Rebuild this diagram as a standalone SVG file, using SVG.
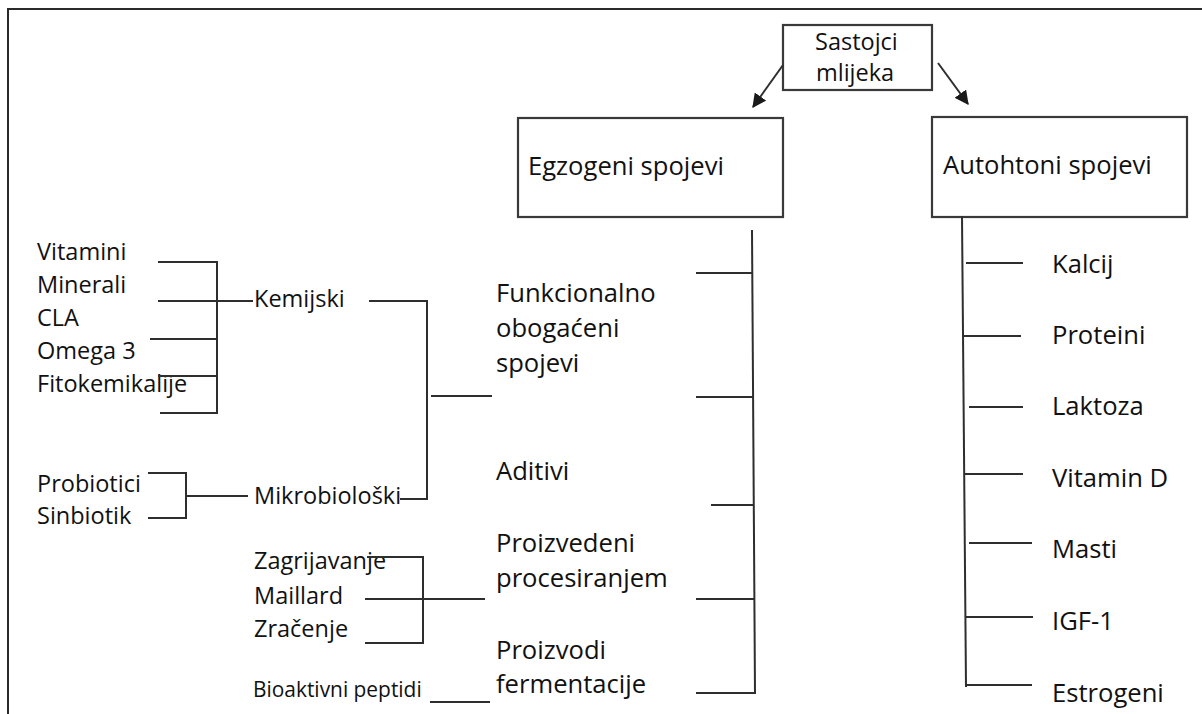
<svg xmlns="http://www.w3.org/2000/svg" width="1202" height="714" viewBox="0 0 1202 714">
<style>
  text { font-family: "Open Sans", "Noto Sans", sans-serif; font-size: 23.5px; fill: #111; }
  .big { font-size: 25.6px; }
  .small { font-size: 20.9px; }
  .box { fill: #fff; stroke: #3a3a3a; stroke-width: 2.2; }
  .ln { stroke: #2e2e2e; stroke-width: 2; fill: none; stroke-linecap: butt; }
  .frame { stroke: #2a2a2a; stroke-width: 2; fill: none; }
</style>
<defs>
  <marker id="ah2" viewBox="0 0 12 12" refX="11" refY="6" markerWidth="14" markerHeight="14" markerUnits="userSpaceOnUse" orient="auto">
    <path d="M0,0 L12,6 L0,12 z" fill="#1a1a1a"/>
  </marker>
</defs>
<rect width="1202" height="714" fill="#fff"/>
<path class="frame" d="M8,714 L8,9 L1202,9"/>

<g id="node-sastojci">
  <rect class="box" x="783" y="25" width="149" height="65"/>
  <text x="815" y="50">Sastojci</text>
  <text x="816" y="81">mlijeka</text>
</g>
<g id="node-egzogeni">
  <rect class="box" x="518" y="118" width="265" height="99"/>
  <text class="big" x="528" y="175">Egzogeni spojevi</text>
</g>
<g id="node-autohtoni">
  <rect class="box" x="932" y="117" width="255" height="100"/>
  <text class="big" x="943" y="174">Autohtoni spojevi</text>
</g>

<g id="node-kemijski-items">
  <text x="37" y="260">Vitamini</text>
  <text x="37" y="293">Minerali</text>
  <text x="37" y="326">CLA</text>
  <text x="37" y="359">Omega 3</text>
  <text x="37" y="392">Fitokemikalije</text>
</g>
<g id="node-kemijski"><text x="254" y="307">Kemijski</text></g>
<g id="node-mikro-items">
  <text x="37" y="492">Probiotici</text>
  <text x="37" y="524">Sinbiotik</text>
</g>
<g id="node-mikrobioloski"><text x="254" y="504">Mikrobiološki</text></g>
<g id="node-proc-items">
  <text x="254" y="569">Zagrijavanje</text>
  <text x="254" y="604">Maillard</text>
  <text x="254" y="637">Zračenje</text>
</g>
<g id="node-bioaktivni"><text class="small" x="253" y="697">Bioaktivni peptidi</text></g>

<g id="node-funkcionalno">
  <text class="big" x="496" y="302">Funkcionalno</text>
  <text class="big" x="496" y="337">obogaćeni</text>
  <text class="big" x="496" y="372">spojevi</text>
</g>
<g id="node-aditivi"><text class="big" x="496" y="480">Aditivi</text></g>
<g id="node-proizvedeni">
  <text class="big" x="496" y="552">Proizvedeni</text>
  <text class="big" x="496" y="587">procesiranjem</text>
</g>
<g id="node-proizvodi">
  <text class="big" x="496" y="659">Proizvodi</text>
  <text class="big" x="496" y="693">fermentacije</text>
</g>

<g id="node-autohtoni-items">
  <text class="big" x="1052" y="273">Kalcij</text>
  <text class="big" x="1052" y="344">Proteini</text>
  <text class="big" x="1052" y="415">Laktoza</text>
  <text class="big" x="1052" y="487">Vitamin D</text>
  <text class="big" x="1052" y="558">Masti</text>
  <text class="big" x="1052" y="630">IGF-1</text>
  <text class="big" x="1052" y="702">Estrogeni</text>
</g>

<g id="connectors">
  <line class="ln" x1="783" y1="65" x2="753" y2="107" marker-end="url(#ah2)"/>
  <line class="ln" x1="938" y1="63" x2="968" y2="104" marker-end="url(#ah2)"/>

  <path class="ln" d="M158,262 L217,262 L217,413 L160,413"/>
  <line class="ln" x1="158" y1="301" x2="253" y2="301"/>
  <line class="ln" x1="150" y1="339" x2="217" y2="339"/>
  <line class="ln" x1="158" y1="376" x2="217" y2="376"/>
  <path class="ln" d="M369,301 L427,301 L427,499 L400,499"/>
  <line class="ln" x1="431" y1="396" x2="492" y2="396"/>
  <path class="ln" d="M148,473 L186,473 L186,518 L148,518"/>
  <line class="ln" x1="186" y1="496" x2="248" y2="496"/>
  <path class="ln" d="M367,557 L423,557 L423,643 L365,643"/>
  <line class="ln" x1="365" y1="599" x2="485" y2="599"/>
  <line class="ln" x1="430" y1="702" x2="490" y2="702"/>

  <line class="ln" x1="752" y1="230" x2="755" y2="693"/>
  <line class="ln" x1="696" y1="273" x2="752" y2="273"/>
  <line class="ln" x1="696" y1="397" x2="754" y2="397"/>
  <line class="ln" x1="711" y1="505" x2="754" y2="505"/>
  <line class="ln" x1="696" y1="599" x2="755" y2="599"/>
  <line class="ln" x1="696" y1="693" x2="756" y2="693"/>

  <line class="ln" x1="962" y1="216" x2="966" y2="687"/>
  <line class="ln" x1="966" y1="263" x2="1023" y2="263"/>
  <line class="ln" x1="964" y1="336" x2="1021" y2="336"/>
  <line class="ln" x1="969" y1="407" x2="1023" y2="407"/>
  <line class="ln" x1="964" y1="474" x2="1023" y2="474"/>
  <line class="ln" x1="969" y1="543" x2="1032" y2="543"/>
  <line class="ln" x1="965" y1="617" x2="1033" y2="617"/>
  <line class="ln" x1="966" y1="685" x2="1032" y2="685"/>
</g>
</svg>
